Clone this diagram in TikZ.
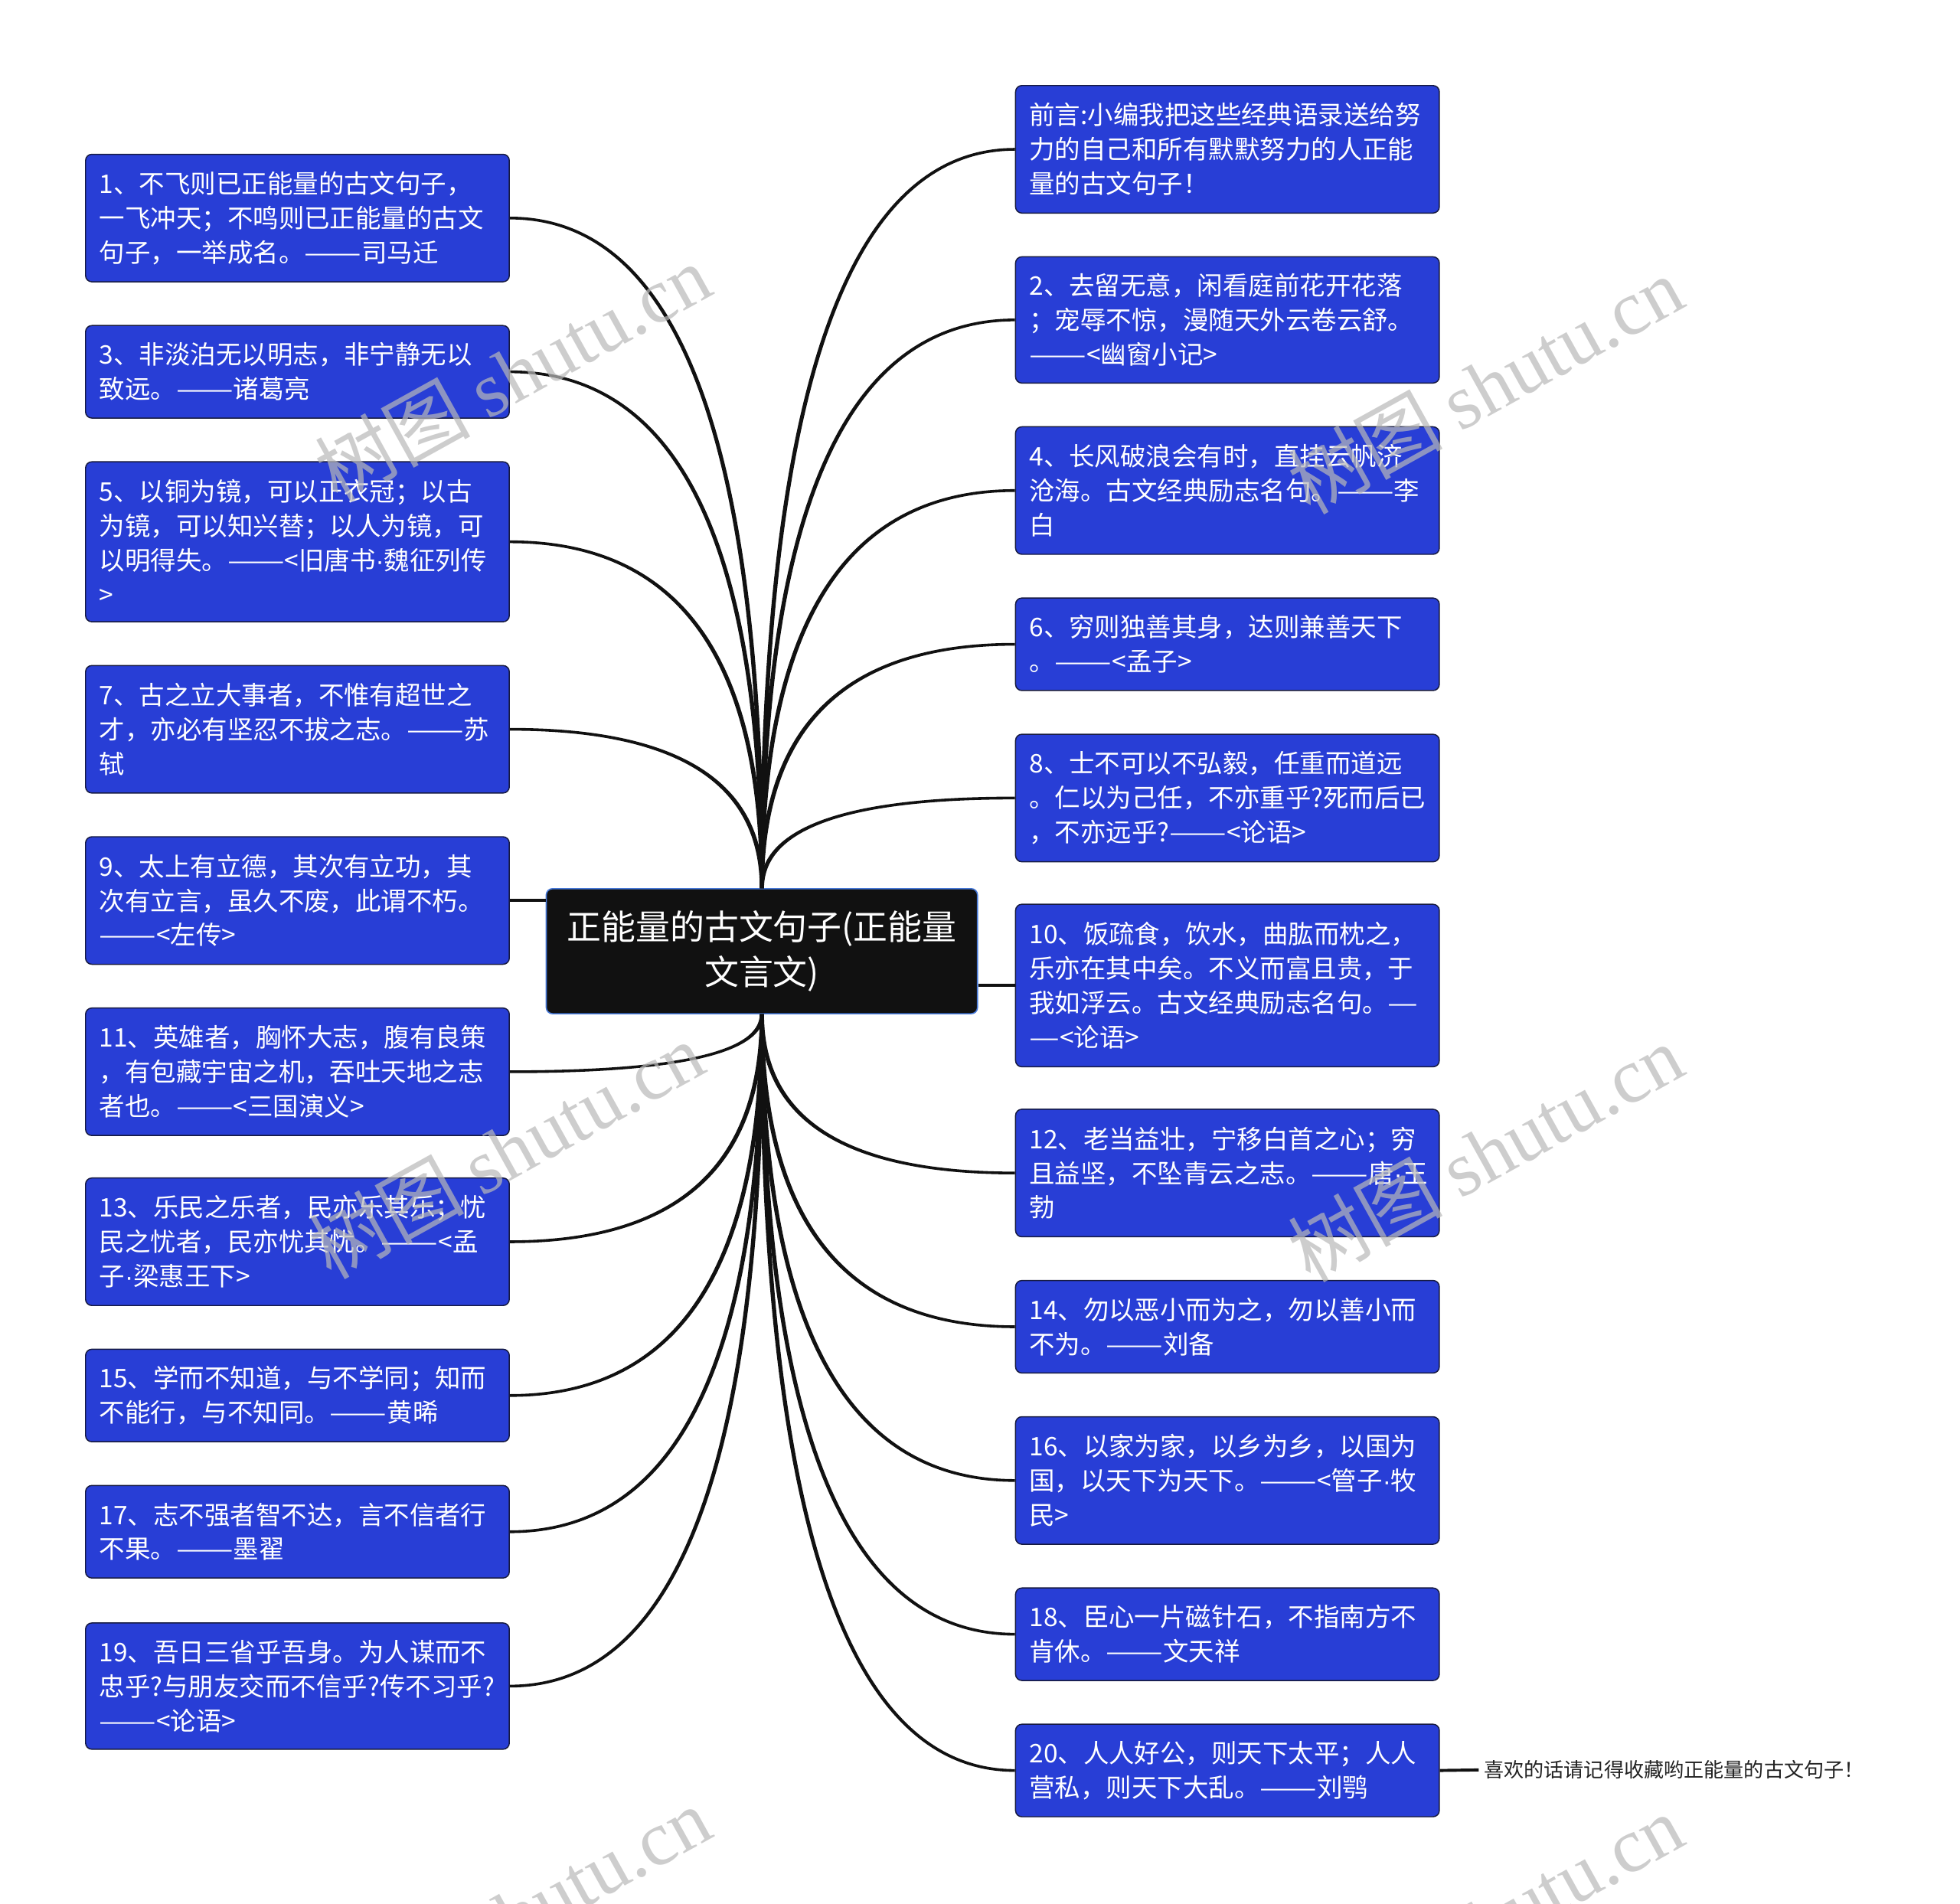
\documentclass[tikz,border=0pt]{standalone}
\usepackage{fontspec}
\setmainfont{Noto Sans CJK SC}
\newfontfamily\wmserif{Liberation Serif}
\newfontfamily\dotfont{Liberation Sans}
\newcommand\md{{\dotfont ·}}
\newcommand\emd{{\addfontfeature{FakeStretch=1.33}—}}
\newcommand\leaffont{\fontsize{20.5}{27.5}\selectfont\hyphenpenalty 10000 \exhyphenpenalty 10000 \relax}
\usetikzlibrary{calc}
\definecolor{leafblue}{RGB}{40,62,214}
\definecolor{leafedge}{RGB}{22,26,64}
\definecolor{rootfill}{RGB}{17,17,17}
\definecolor{rootedge}{RGB}{70,120,215}
\definecolor{branchcol}{RGB}{17,17,17}
\definecolor{notetext}{RGB}{34,34,34}
\definecolor{wmgray}{RGB}{185,185,185}
% tapered quadratic branch: #1 start, #2 end, #3 half width at start (x), #4 half width at end (y)
\newcommand\branch[4]{%
  \coordinate (bs1) at ($(#1)+(#3,0)$);
  \coordinate (bs2) at ($(#1)-(#3,0)$);
  \coordinate (be1) at ($(#2)+(0,#4)$);
  \coordinate (be2) at ($(#2)-(0,#4)$);
  \fill[branchcol] (bs1) .. controls ($(bs1)!2/3!(bs1|-be1)$) and ($(be1)!2/3!(bs1|-be1)$) .. (be1)
    -- (be2) .. controls ($(be2)!2/3!(bs2|-be2)$) and ($(bs2)!2/3!(bs2|-be2)$) .. (bs2) -- cycle;
}
\begin{document}
\begin{tikzpicture}[x=1pt,y=-1pt,
  leaf/.style={draw=leafedge, line width=0.9pt, fill=leafblue, rounded corners=5pt,
    text=white, text width=317pt, align=left, inner xsep=11pt, inner ysep=0pt,
    anchor=north west, font=\leaffont},
  root/.style={draw=rootedge, line width=1pt, fill=rootfill, rounded corners=5pt,
    text=white, align=center, minimum width=345pt, minimum height=100pt, inner sep=0pt,
    font=\fontsize{27.5}{36}\selectfont},
  note/.style={text=notetext, inner sep=4pt, anchor=west, font=\fontsize{16}{18}\selectfont},
  straight/.style={draw=branchcol, line width=2.4pt},
  wm/.style={text=wmgray, opacity=0.7, rotate=29, inner sep=0pt, font=\fontsize{62}{62}\selectfont}]
\fill[white] (0,0) rectangle (1568,1523);
\useasboundingbox (0,0) rectangle (1568,1523);

% root
\node[root] (c) at (609.5,761) {正能量的古文句子(正能量\\文言文)};

% left column
\node[leaf, minimum height=102pt] (b1) at (68,123) {1、不飞则已正能量的古文句子，\\一飞冲天；不鸣则已正能量的古文\\句子，一举成名。\emd\emd{}司马迁};
\node[leaf, minimum height=74pt] (b3) at (68,260) {3、非淡泊无以明志，非宁静无以\\致远。\emd\emd{}诸葛亮};
\node[leaf, minimum height=128pt] (b5) at (68,369) {5、以铜为镜，可以正衣冠；以古\\为镜，可以知兴替；以人为镜，可\\以明得失。\emd\emd{}<旧唐书\md{}魏征列传\\>};
\node[leaf, minimum height=102pt] (b7) at (68,532) {7、古之立大事者，不惟有超世之\\才，亦必有坚忍不拔之志。\emd\emd{}苏\\轼};
\node[leaf, minimum height=102pt] (b9) at (68,669) {9、太上有立德，其次有立功，其\\次有立言，虽久不废，此谓不朽。\\\emd\emd{}<左传>};
\node[leaf, minimum height=102pt] (b11) at (68,806) {11、英雄者，胸怀大志，腹有良策\\，有包藏宇宙之机，吞吐天地之志\\者也。\emd\emd{}<三国演义>};
\node[leaf, minimum height=102pt] (b13) at (68,942) {13、乐民之乐者，民亦乐其乐；忧\\民之忧者，民亦忧其忧。\emd\emd{}<孟\\子\md{}梁惠王下>};
\node[leaf, minimum height=74pt] (b15) at (68,1079) {15、学而不知道，与不学同；知而\\不能行，与不知同。\emd\emd{}黄晞};
\node[leaf, minimum height=74pt] (b17) at (68,1188) {17、志不强者智不达，言不信者行\\不果。\emd\emd{}墨翟};
\node[leaf, minimum height=101pt] (b19) at (68,1298) {19、吾日三省乎吾身。为人谋而不\\忠乎?与朋友交而不信乎?传不习乎?\\\emd\emd{}<论语>};

% right column
\node[leaf, minimum height=102pt] (b0) at (812,68) {前言:小编我把这些经典语录送给努\\力的自己和所有默默努力的人正能\\量的古文句子！};
\node[leaf, minimum height=101pt] (b2) at (812,205) {2、去留无意，闲看庭前花开花落\\；宠辱不惊，漫随天外云卷云舒。\\\emd\emd{}<幽窗小记>};
\node[leaf, minimum height=102pt] (b4) at (812,341) {4、长风破浪会有时，直挂云帆济\\沧海。古文经典励志名句。\emd\emd{}李\\白};
\node[leaf, minimum height=74pt] (b6) at (812,478) {6、穷则独善其身，达则兼善天下\\。\emd\emd{}<孟子>};
\node[leaf, minimum height=102pt] (b8) at (812,587) {8、士不可以不弘毅，任重而道远\\。仁以为己任，不亦重乎?死而后已\\，不亦远乎?\emd\emd{}<论语>};
\node[leaf, minimum height=130pt] (b10) at (812,723) {10、饭疏食，饮水，曲肱而枕之，\\乐亦在其中矣。不义而富且贵，于\\我如浮云。古文经典励志名句。\emd\\\emd{}<论语>};
\node[leaf, minimum height=102pt] (b12) at (812,887) {12、老当益壮，宁移白首之心；穷\\且益坚，不坠青云之志。\emd\emd{}唐\md{}王\\勃};
\node[leaf, minimum height=74pt] (b14) at (812,1024) {14、勿以恶小而为之，勿以善小而\\不为。\emd\emd{}刘备};
\node[leaf, minimum height=102pt] (b16) at (812,1133) {16、以家为家，以乡为乡，以国为\\国，以天下为天下。\emd\emd{}<管子\md{}牧\\民>};
\node[leaf, minimum height=74pt] (b18) at (812,1270) {18、臣心一片磁针石，不指南方不\\肯休。\emd\emd{}文天祥};
\node[leaf, minimum height=74pt] (b20) at (812,1379) {20、人人好公，则天下太平；人人\\营私，则天下大乱。\emd\emd{}刘鹗};

% trailing note
\node[note] (nt) at (1183,1416) {喜欢的话请记得收藏哟正能量的古文句子！};

% branches: top
\branch{c.north}{b1.east}{1.7}{-1.1}
\branch{c.north}{b3.east}{1.7}{-1.1}
\branch{c.north}{b5.east}{1.7}{-1.1}
\branch{c.north}{b7.east}{1.7}{-1.1}
\branch{c.north}{b0.west}{-1.7}{-1.1}
\branch{c.north}{b2.west}{-1.7}{-1.1}
\branch{c.north}{b4.west}{-1.7}{-1.1}
\branch{c.north}{b6.west}{-1.7}{-1.1}
\branch{c.north}{b8.west}{-1.7}{-1.1}
% branches: bottom
\branch{c.south}{b11.east}{1.7}{1.1}
\branch{c.south}{b13.east}{1.7}{1.1}
\branch{c.south}{b15.east}{1.7}{1.1}
\branch{c.south}{b17.east}{1.7}{1.1}
\branch{c.south}{b19.east}{1.7}{1.1}
\branch{c.south}{b12.west}{-1.7}{1.1}
\branch{c.south}{b14.west}{-1.7}{1.1}
\branch{c.south}{b16.west}{-1.7}{1.1}
\branch{c.south}{b18.west}{-1.7}{1.1}
\branch{c.south}{b20.west}{-1.7}{1.1}
% side connectors
\draw[straight] (b9.east) -- (b9.east -| c.west);
\draw[straight] (c.east |- b10.west) -- (b10.west);
\draw[straight] (b20.east) -- (nt.west);

% watermarks
\node[wm] at (410,298) {树图\ {\wmserif shutu.cn}};
\node[wm] at (1188,308) {树图\ {\wmserif shutu.cn}};
\node[wm] at (405,920) {树图\ {\wmserif shutu.cn}};
\node[wm] at (1188,922) {树图\ {\wmserif shutu.cn}};
\node[wm] at (410,1532) {树图\ {\wmserif shutu.cn}};
\node[wm] at (1188,1538) {树图\ {\wmserif shutu.cn}};
\end{tikzpicture}
\end{document}
